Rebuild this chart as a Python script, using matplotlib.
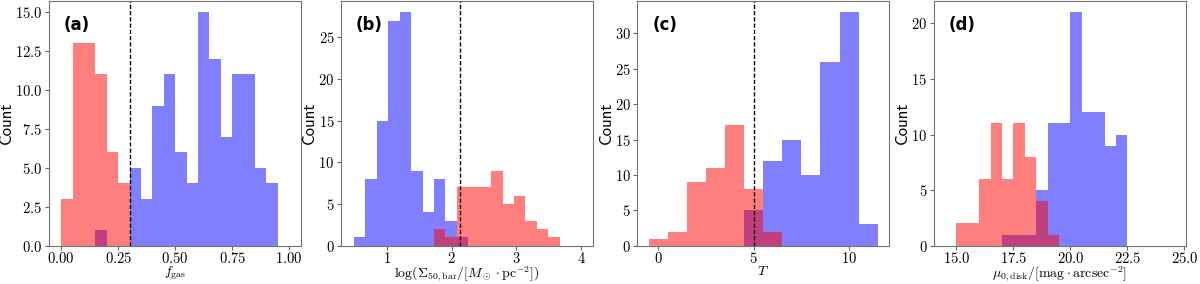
import matplotlib
matplotlib.use("Agg")
import matplotlib.pyplot as plt
from matplotlib.ticker import MultipleLocator
import numpy as np

plt.rcParams['font.family'] = 'serif'
plt.rcParams['font.serif'] = ['cmr10']
plt.rcParams['mathtext.fontset'] = 'cm'
plt.rcParams['axes.formatter.use_mathtext'] = True
plt.rcParams['axes.unicode_minus'] = False

# panel (a): gas fraction
edges_a = np.arange(0, 0.951, 0.05)
red_a = [3, 13, 13, 11, 6, 4, 0, 0, 0, 0, 0, 0, 0, 0, 0, 0, 0, 0, 0]
blue_a = [0, 0, 0, 1, 0, 0, 5, 3, 9, 11, 6, 4, 15, 12, 7, 11, 11, 5, 4]
cut_a = 0.30

# panel (b): bar surface density
edges_b = np.linspace(0.493, 3.67, 19)
red_b = [0, 0, 0, 0, 0, 0, 0, 2, 1, 7, 7, 7, 9, 5, 6, 3, 2, 1]
blue_b = [1, 8, 15, 27, 28, 9, 4, 8, 3, 1, 0, 0, 0, 0, 0, 0, 0, 0]
cut_b = 2.13

# panel (c): Hubble type T
edges_c = np.arange(-0.5, 11.6, 1.0)
red_c = [1, 2, 9, 11, 17, 8, 2, 0, 0, 0, 0, 0]
blue_c = [0, 0, 0, 0, 0, 5, 12, 15, 10, 26, 33, 3]
cut_c = 5.0

# panel (d): central disk surface brightness
edges_d = np.arange(15.0, 22.51, 0.5)
red_d = [2, 2, 6, 11, 6, 11, 8, 4, 1, 0, 0, 0, 0, 0, 0]
blue_d = [0, 0, 0, 0, 1, 1, 1, 5, 11, 11, 21, 12, 12, 9, 10]

panels = [
    ("(a)", edges_a, red_a, blue_a, cut_a, r'$f_{\rm gas}$', (-0.055, 1.05), 2.5),
    ("(b)", edges_b, red_b, blue_b, cut_b,
     r'$\log(\Sigma_{\rm 50,bar}/[M_\odot\cdot{\rm pc}^{-2}])$', (0.29, 4.18), 5),
    ("(c)", edges_c, red_c, blue_c, cut_c, r'$T$', None, 5),
    ("(d)", edges_d, red_d, blue_d, None,
     r'$\mu_{0,{\rm disk}}/[{\rm mag}\cdot{\rm arcsec}^{-2}]$', (14.0, 25.05), 5),
]

fig = plt.figure(figsize=(12, 2.84), dpi=100)
lefts = [0.0405, 0.284, 0.531, 0.778]
w = 0.21

for left, (lab, edges, red, blue, cut, xlab, xlim, ystep) in zip(lefts, panels):
    ax = fig.add_axes([left, 0.135, w, 0.863])
    ax.hist(edges[:-1], bins=edges, weights=blue, histtype='stepfilled',
            color='blue', alpha=0.5)
    ax.hist(edges[:-1], bins=edges, weights=red, histtype='stepfilled',
            color='red', alpha=0.5)
    if cut is not None:
        ax.axvline(cut, color='k', ls=(0, (3, 1.5)), lw=1)
    if xlim is not None:
        ax.set_xlim(xlim)
    ax.yaxis.set_major_locator(MultipleLocator(ystep))
    ax.set_xlabel(xlab, fontsize=10, labelpad=-1)
    ax.set_ylabel('Count', fontsize=12, family='cmss10', labelpad=1)
    ax.tick_params(labelsize=10.5, color='0.4', length=3)
    ax.tick_params(axis='x', pad=1)
    ax.tick_params(axis='y', pad=1.5)
    for s in ax.spines.values():
        s.set_color('0.45')
    ax.text(0.06, 0.9, lab, transform=ax.transAxes, fontsize=12,
            fontweight='bold', family='DejaVu Sans', va='center')

fig.savefig('out.png', dpi=100)
